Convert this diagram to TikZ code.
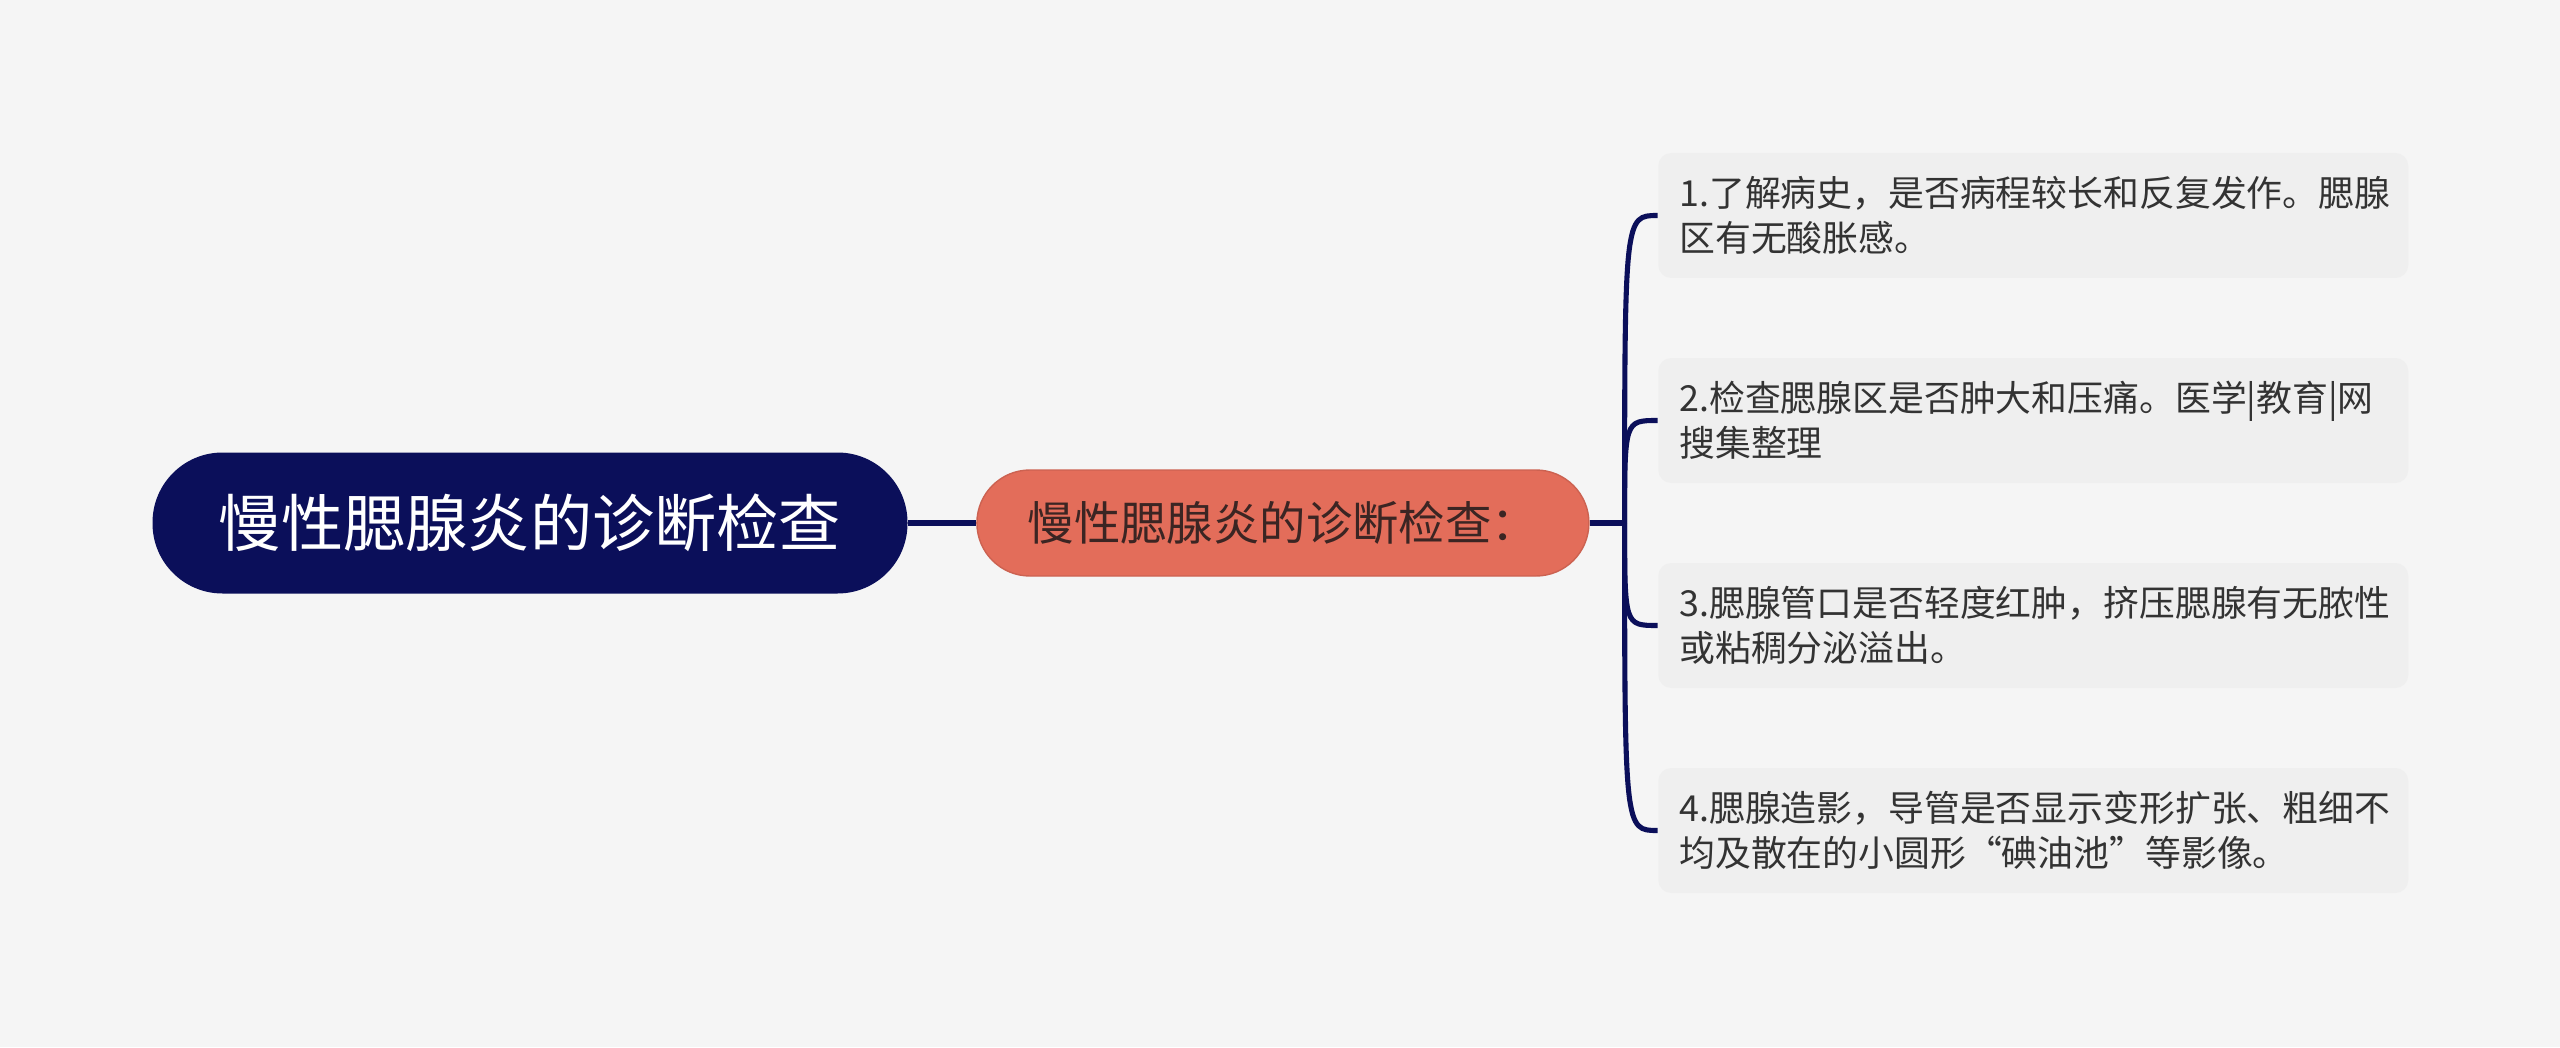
\documentclass[tikz,border=0pt]{standalone}
\usepackage{fontspec}
\newfontfamily\cjk{Noto Sans CJK SC}
\usepackage{tikz}
\usetikzlibrary{positioning}
\definecolor{navy}{HTML}{0B0F5A}
\definecolor{coral}{HTML}{E36D5A}
\definecolor{coraltext}{HTML}{3B2523}
\definecolor{bgcol}{HTML}{F5F5F5}
\definecolor{leafcol}{HTML}{EFEFEF}
\definecolor{leaftext}{HTML}{333333}

\begin{document}
\begin{tikzpicture}[
  rootnode/.style={rectangle, rounded corners=0.7cm, fill=navy, text=white, minimum width=7.55cm, minimum height=1.41cm, font=\cjk\fontsize{17.7}{22}\selectfont},
  topicnode/.style={rectangle, rounded corners=0.53cm, fill=coral, draw=coral!90!black, line width=0.4pt, text=coraltext, minimum width=6.12cm, minimum height=1.06cm, font=\cjk\fontsize{13.2}{16}\selectfont},
  leafnode/.style={rectangle, rounded corners=0.13cm, fill=leafcol, text=leaftext, minimum height=1.25cm, inner xsep=0.21cm, text width=7.08cm, align=left, font=\cjk\fontsize{10.2}{12.8}\selectfont},
  link/.style={draw=navy, line width=1.45pt}
]
\useasboundingbox[fill=bgcol] (0,0) rectangle (25.6,10.47);

\node[rootnode] (root) at (5.3,5.24) {慢性腮腺炎的诊断检查};
\node[topicnode, right=0.68cm of root] (mid) {慢性腮腺炎的诊断检查：};
\coordinate[right=0.35cm of mid] (fork);

\node[leafnode, right=0.33cm of fork, yshift=3.075cm] (leaf1) {1.了解病史，是否病程较长和反复发作。腮腺\\区有无酸胀感。};
\node[leafnode, right=0.33cm of fork, yshift=1.025cm] (leaf2) {2.检查腮腺区是否肿大和压痛。医学|教育|网\\搜集整理};
\node[leafnode, right=0.33cm of fork, yshift=-1.025cm] (leaf3) {3.腮腺管口是否轻度红肿，挤压腮腺有无脓性\\或粘稠分泌溢出。};
\node[leafnode, right=0.33cm of fork, yshift=-3.075cm] (leaf4) {4.腮腺造影，导管是否显示变形扩张、粗细不\\均及散在的小圆形“碘油池”等影像。};

\draw[link] (root) -- (mid);
\draw[link] (mid) -- (fork);
\foreach \i in {1,...,4}
  \draw[link] (fork) .. controls (fork |- leaf\i.west) .. (leaf\i.west);
\end{tikzpicture}
\end{document}
